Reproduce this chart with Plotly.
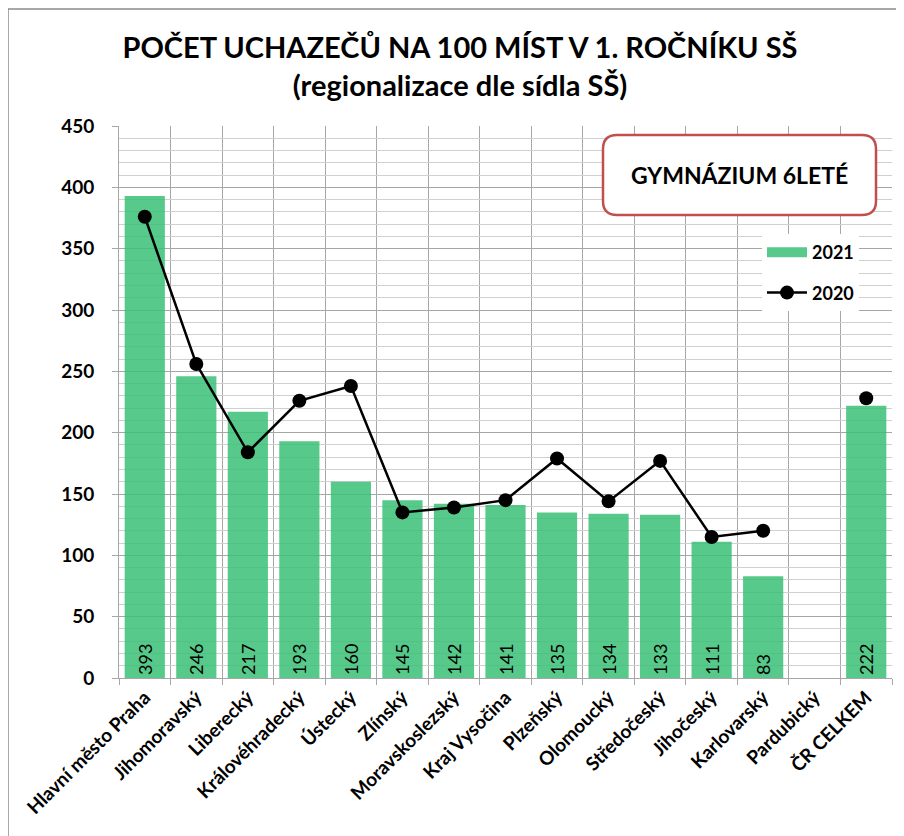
import plotly.graph_objects as go

categories = ["Hlavní město Praha", "Jihomoravský", "Liberecký", "Královéhradecký", "Ústecký",
              "Zlínský", "Moravskoslezský", "Kraj Vysočina", "Plzeňský", "Olomoucký",
              "Středočeský", "Jihočeský", "Karlovarský", "Pardubický", "ČR CELKEM"]
values_2021 = [393, 246, 217, 193, 160, 145, 142, 141, 135, 134, 133, 111, 83, None, 222]
values_2020 = [376, 256, 184, 226, 238, 135, 139, 145, 179, 144, 177, 115, 120, None, 228]
y_ticks = [0, 50, 100, 150, 200, 250, 300, 350, 400, 450]
labels_2021 = ["" if v is None else str(v) for v in values_2021]

FONT = "Lato"
GREEN = "rgba(57,191,117,0.85)"
positions = list(range(len(categories)))
boundaries = [p - 0.5 for p in positions] + [positions[-1] + 0.5]

fig = go.Figure()
fig.add_trace(go.Bar(
    x=positions, y=values_2021, name="2021", showlegend=False,
    marker=dict(color=GREEN, line=dict(width=0)),
    text=labels_2021, textposition="inside", insidetextanchor="start", textangle=-90,
    constraintext="none",
    textfont=dict(family=FONT, size=18, color="black"),
))
# legend entry for 2021 (wide rectangle swatch)
fig.add_trace(go.Scatter(
    x=[None], y=[None], name="2021", mode="lines", legendgroup="a",
    line=dict(color="rgb(87,201,138)", width=13),
))
fig.add_trace(go.Scatter(
    x=positions[:13], y=values_2020[:13], name="2020", mode="lines+markers", legendgroup="b",
    line=dict(color="black", width=2.5), marker=dict(color="black", size=14),
))
fig.add_trace(go.Scatter(
    x=positions[14:], y=values_2020[14:], name="2020", mode="markers", showlegend=False,
    marker=dict(color="black", size=14),
))

# plot area in page pixels (compensated for page offset)
L, T, W, H = 111, 118, 773, 552
def px(x):
    return (x - L) / W
def py(y):
    return 1 - (y - T) / H
x0, x1, y0, y1 = 595, 868, 127, 207
r = 14
path = (f"M {px(x0+r)},{py(y0)} L {px(x1-r)},{py(y0)} Q {px(x1)},{py(y0)} {px(x1)},{py(y0+r)} "
        f"L {px(x1)},{py(y1-r)} Q {px(x1)},{py(y1)} {px(x1-r)},{py(y1)} "
        f"L {px(x0+r)},{py(y1)} Q {px(x0)},{py(y1)} {px(x0)},{py(y1-r)} "
        f"L {px(x0)},{py(y0+r)} Q {px(x0)},{py(y0)} {px(x0+r)},{py(y0)} Z")

fig.update_layout(
    width=904, height=836,
    margin=dict(l=L, r=904 - L - W, t=T, b=836 - T - H),
    paper_bgcolor="white", plot_bgcolor="white",
    bargap=0.22,
    font=dict(family=FONT, color="black"),
    title=dict(text="<b>POČET UCHAZEČŮ NA 100 MÍST V 1. ROČNÍKU SŠ<br>(regionalizace dle sídla SŠ)</b>",
               x=0.5, xanchor="center", y=0.94, yanchor="top",
               font=dict(family=FONT, size=29, color="black")),
    legend=dict(x=px(754), y=py(226), xanchor="left", yanchor="top",
                bgcolor="white", font=dict(family=FONT, size=18, color="black", weight="bold"),
                itemwidth=40, tracegroupgap=14),
    xaxis=dict(range=[-0.5, len(categories) - 0.5], automargin=False,
               tickvals=positions, ticktext=categories, showgrid=False, ticks="",
               minor=dict(tickvals=boundaries, showgrid=True, gridcolor="#A6A6A6", gridwidth=1,
                          ticks="outside", ticklen=6, tickcolor="#A6A6A6"),
               tickangle=-45, showline=True, linecolor="#A6A6A6", linewidth=1, zeroline=False,
               tickfont=dict(family=FONT, size=19, color="black", weight="bold")),
    yaxis=dict(range=[0, 450], tickvals=y_ticks, showgrid=True, gridcolor="#A6A6A6", gridwidth=1,
               automargin=False, ticklabelstandoff=14,
               minor=dict(dtick=10, showgrid=True, gridcolor="#D0D0D0", gridwidth=1),
               ticks="outside", ticklen=6, tickcolor="#A6A6A6",
               showline=True, linecolor="#A6A6A6", linewidth=1, zeroline=False,
               tickfont=dict(family=FONT, size=19, color="black", weight="bold")),
    shapes=[
        dict(type="path", xref="paper", yref="paper", path=path,
             line=dict(color="#C0504D", width=2.5), fillcolor="white", layer="above"),
        dict(type="rect", xref="paper", yref="paper", x0=px(0), x1=px(903), y0=py(835), y1=py(1),
             line=dict(color="#8C8C8C", width=1.5), fillcolor="rgba(0,0,0,0)", layer="below"),
    ],
    annotations=[
        dict(text="<b>GYMNÁZIUM 6LETÉ</b>", xref="paper", yref="paper",
             x=px((x0 + x1) / 2), y=py((y0 + y1) / 2), xanchor="center", yanchor="middle",
             showarrow=False, font=dict(family=FONT, size=23, color="black")),
    ],
)

fig.write_html("out.html")
